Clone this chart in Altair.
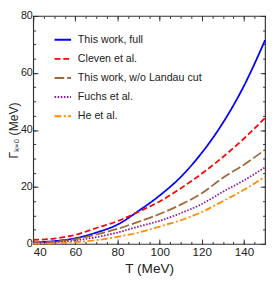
import altair as alt
import pandas as pd

T = [40, 50, 60, 70, 80, 90, 100, 110, 120, 130, 140, 150]
full = [0.5, 1.0, 2.0, 4.0, 6.8, 11.6, 17.0, 23.5, 32.0, 42.5, 55.5, 71.5]
cleven = [1.4, 1.9, 3.2, 5.6, 8.0, 11.3, 14.9, 19.5, 24.7, 30.5, 37.0, 44.2]
wo_landau = [0.4, 0.8, 1.7, 3.3, 5.3, 7.8, 10.5, 13.8, 17.8, 23.2, 27.8, 33.1]
fuchs = [0.3, 0.6, 1.2, 2.4, 4.0, 6.1, 8.1, 10.8, 14.0, 18.3, 22.3, 26.9]
he = [0.05, 0.2, 0.6, 1.3, 2.5, 4.0, 6.1, 8.3, 11.2, 15.0, 19.0, 23.6]

names = ["This work, full", "Cleven et al.", "This work, w/o Landau cut", "Fuchs et al.", "He et al."]
colors = ["#0000ff", "#ff0000", "#a0693c", "#8b1a9b", "#ff8c00"]
dashes = [[1, 0], [6, 3], [10, 3], [1.6, 1.6], [7, 2.5, 2, 2.5]]
series = [full, cleven, wo_landau, fuchs, he]

rows = []
for n, s in zip(names, series):
    for t, v in zip(T, s):
        rows.append({"T": t, "G": v, "series": n})
df = pd.DataFrame(rows)

xmajor = [40, 60, 80, 100, 120, 140]
ymajor = [0, 20, 40, 60, 80]
xminor = list(range(40, 151, 5))
yminor = list(range(0, 81, 5))

xs = alt.Scale(domain=[40, 150], nice=False)
ys = alt.Scale(domain=[0, 80], nice=False)
font = "Liberation Sans"

def ax(orient, values, size, labels=False, title=None, lpad=3, tpad=4, lsize=12, tsize=14):
    kw = dict(orient=orient, values=values, tickSize=size, offset=-size,
              domain=False, grid=False, tickColor="#333", tickWidth=1,
              labels=labels, title=title)
    if labels:
        kw.update(labelFont=font, labelFontSize=lsize, labelColor="#222", labelPadding=lpad,
                  titleFont=font, titleFontSize=tsize, titleFontWeight="normal",
                  titleColor="#222", titlePadding=tpad)
    return alt.Axis(**kw)

leg = alt.Legend(orient="none", legendX=21, legendY=15, title=None,
                 symbolType="stroke", symbolSize=289, symbolStrokeWidth=2,
                 labelFont=font, labelFontSize=11, labelColor="#222",
                 rowPadding=4.7, labelOffset=6, padding=0)

main = alt.Chart(df).mark_line(interpolate="monotone", strokeWidth=1.8).encode(
    x=alt.X("T:Q", scale=xs, axis=ax("bottom", xmajor, 5, True, "T (MeV)", lpad=3, tpad=4)),
    y=alt.Y("G:Q", scale=ys, axis=ax("left", ymajor, 5, True, "Γₖ₌₀ (MeV)",
                                     lpad=1, tpad=0, lsize=11, tsize=12.5)),
    color=alt.Color("series:N", sort=names,
                    scale=alt.Scale(domain=names, range=colors), legend=leg),
    strokeDash=alt.StrokeDash("series:N", sort=names,
                              scale=alt.Scale(domain=names, range=dashes), legend=leg),
)

def axis_layer(xo, xv, xsz, yo, yv, ysz):
    return alt.Chart(df).mark_line(opacity=0).encode(
        x=alt.X("T:Q", scale=xs, axis=ax(xo, xv, xsz)),
        y=alt.Y("G:Q", scale=ys, axis=ax(yo, yv, ysz)),
    )

l2 = axis_layer("top", xmajor, 5, "right", ymajor, 5)
l3 = axis_layer("bottom", xminor, 2.5, "left", yminor, 2.5)
l4 = axis_layer("top", xminor, 2.5, "right", yminor, 2.5)

chart = alt.layer(main, l2, l3, l4).resolve_axis(x="independent", y="independent").properties(
    width=239, height=235,
    autosize=alt.AutoSizeParams(type="none"),
    padding={"left": 26, "top": 4, "right": 2, "bottom": 34},
).configure_view(stroke="#333", strokeWidth=1.2)

chart.save("out.html", embed_options={"renderer": "svg", "actions": False})
